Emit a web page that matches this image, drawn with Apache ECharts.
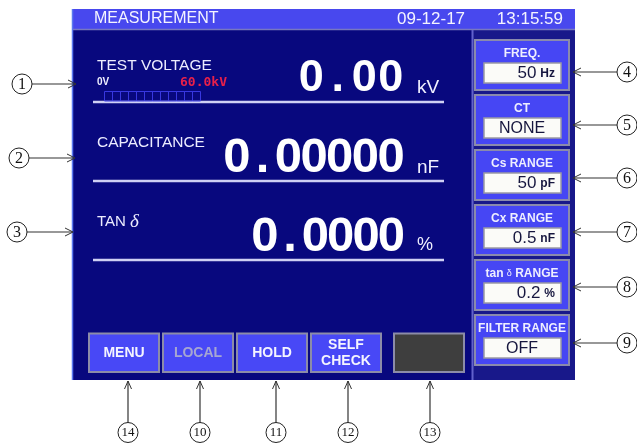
<!DOCTYPE html>
<html>
<head>
<meta charset="utf-8">
<script src="https://cdn.jsdelivr.net/npm/echarts@6/dist/echarts.min.js"></script>
<style>
  html, body { margin: 0; padding: 0; background: #fff; }
  #main { width: 637px; height: 443px; }
</style>
</head>
<body>
<div id="main"></div>
<script>
"use strict";
// screen texts
var headerTitle = 'MEASUREMENT';
var headerDate = '09-12-17';
var headerTime = '13:15:59';

var readingLabels = ['TEST VOLTAGE', 'CAPACITANCE', 'TAN δ'];
var readingValues = ['0.00', '0.00000', '0.0000'];
var readingUnits = ['kV', 'nF', '%'];

var gaugeMin = '0V';
var gaugeMax = '60.0kV';
var gaugeCells = 12;

var panelTitles = ['FREQ.', 'CT', 'Cs RANGE', 'Cx RANGE', 'tan δ RANGE', 'FILTER RANGE'];
var panelValues = ['50', 'NONE', '50', '0.5', '0.2', 'OFF'];
var panelUnits = ['Hz', '', 'pF', 'nF', '%', ''];

var buttonLabels = ['MENU', 'LOCAL', 'HOLD', 'SELF\nCHECK', ''];
var buttonEnabled = [true, false, true, true, false];

var leftCallouts = ['1', '2', '3'];
var rightCallouts = ['4', '5', '6', '7', '8', '9'];
var bottomCallouts = ['14', '10', '11', '12', '13'];

var FONT = 'Liberation Sans';
var els = [];

function rect(x, y, w, h, fill, stroke, lw) {
    els.push({type: 'rect', shape: {x: x, y: y, width: w, height: h},
        style: {fill: fill, stroke: stroke || null, lineWidth: lw || 0}});
}
function line(x1, y1, x2, y2, color, lw) {
    els.push({type: 'line', shape: {x1: x1, y1: y1, x2: x2, y2: y2},
        style: {stroke: color, lineWidth: lw || 1}});
}
function txt(x, y, text, size, color, opts) {
    opts = opts || {};
    var st = {text: text, fill: color, fontSize: size, fontFamily: opts.family || FONT,
        fontWeight: opts.weight || 'normal', textAlign: opts.align || 'left',
        textVerticalAlign: 'middle'};
    if (opts.rich) st.rich = opts.rich;
    if (opts.lineHeight) st.lineHeight = opts.lineHeight;
    els.push({type: 'text', x: x, y: y, style: st});
}

// ---- screen frame ----
rect(72, 9, 503, 371, '#08087e');
rect(72, 9, 503, 20, '#4848ee');
rect(472, 29, 103, 351, '#18188a');
line(72, 29.5, 575, 29.5, '#7878c0', 1.5);
line(472.5, 30, 472.5, 380, '#6262cc', 2);
line(72.5, 9, 72.5, 380, '#5a78f0', 1.5);

txt(94, 19, headerTitle, 16, '#f4f4ff');
txt(397, 19, headerDate, 17, '#f4f4ff');
txt(563, 19, headerTime, 17, '#f4f4ff', {align: 'right'});

// ---- readings ----
var rowLabelY = [66, 143, 222];
var rowDigitY = [79, 158.5, 237.5];
var rowDigitSize = [45, 49, 49];
var rowCell = [26.5, 25.7, 25.3];
var rowUnitY = [88, 168, 245.5];
var rowLineY = [102, 181, 260];

readingLabels.forEach(function (lab, i) {
    if (lab.indexOf('δ') >= 0) {
        txt(97, rowLabelY[i], '{a|TAN }{b|δ}', 15, '#ececff', {rich: {
            a: {fontSize: 15, fontFamily: FONT, fill: '#ececff'},
            b: {fontSize: 19, fontFamily: 'Liberation Serif', fontStyle: 'italic', fill: '#ececff'}
        }});
    } else {
        txt(97, rowLabelY[i], lab, 15.5, '#ececff');
    }
    var s = readingValues[i].split('').map(function (c) { return '{d|' + c + '}'; }).join('');
    txt(404, rowDigitY[i], s, rowDigitSize[i], '#ffffff', {align: 'right', rich: {
        d: {fontSize: rowDigitSize[i], fontFamily: FONT, fontWeight: 'bold', fill: '#ffffff',
            width: rowCell[i], align: 'center'}
    }});
    txt(417, rowUnitY[i], readingUnits[i], i === 2 ? 18 : 19, '#f0f0ff');
    line(93, rowLineY[i], 444, rowLineY[i], '#cfd0f4', 2.5);
});

// gauge under TEST VOLTAGE
txt(97, 82.5, gaugeMin, 10, '#f0f0ff', {weight: 'bold'});
txt(227, 82.5, gaugeMax, 13, '#e8204a', {align: 'right', weight: 'bold', family: 'DejaVu Sans Mono'});
for (var g = 0; g < gaugeCells; g++) {
    els.push({type: 'rect', shape: {x: 104.5 + g * 8, y: 91.5, width: 8, height: 9.5},
        style: {fill: null, stroke: '#3838e0', lineWidth: 1}});
}

// ---- right panel ----
panelTitles.forEach(function (t, i) {
    var top = 40 + i * 55;
    rect(475, top, 94, 50, '#4646f4', '#8a8aac', 2);
    if (t.indexOf('δ') >= 0) {
        txt(522, top + 13.5, '{a|tan }{b|δ}{a| RANGE}', 12, '#eeeeff', {align: 'center', rich: {
            a: {fontSize: 12, fontWeight: 'bold', fontFamily: FONT, fill: '#eeeeff'},
            b: {fontSize: 9, fontFamily: FONT, fill: '#eeeeff'}
        }});
    } else {
        txt(522, top + 13.5, t, 12, '#eeeeff', {align: 'center', weight: 'bold'});
    }
    rect(484, top + 23, 77, 20, '#fbfbf8', '#9a9aa4', 1.5);
    if (panelUnits[i]) {
        txt(555, top + 33.5, '{v|' + panelValues[i] + '}{u|' + panelUnits[i] + '}', 16, '#16163e', {
            align: 'right', rich: {
                v: {fontSize: 17, fontFamily: FONT, fill: '#16163e'},
                u: {fontSize: 12, fontWeight: 'bold', fontFamily: FONT, fill: '#16163e',
                    padding: [0, 0, 0, 4]}
            }});
    } else {
        txt(522, top + 33.5, panelValues[i], 16, '#16163e', {align: 'center'});
    }
});

// ---- soft keys ----
var btnX = [89, 163, 237, 311, 394];
buttonLabels.forEach(function (b, i) {
    var dark = b === '';
    rect(btnX[i], 333.5, 70, 38.5, dark ? '#3e3e3e' : '#4848f6', '#8c8ca8', 2);
    if (!dark) {
        txt(btnX[i] + 35, 353, b, 14, buttonEnabled[i] ? '#f4f4ff' : '#a6a6d2',
            {align: 'center', weight: 'bold', lineHeight: 16});
    }
});

// ---- callouts ----
function circleNum(cx, cy, n) {
    els.push({type: 'circle', shape: {cx: cx, cy: cy, r: 10},
        style: {fill: '#ffffff', stroke: '#222', lineWidth: 1}});
    txt(cx, cy + 0.5, n, n.length > 1 ? 13 : 16, '#111',
        {align: 'center', family: 'Liberation Serif'});
}
function arrowRight(x1, x2, y) {
    line(x1, y, x2, y, '#333', 1.2);
    els.push({type: 'polyline', shape: {points: [[x2 - 8, y - 4], [x2, y], [x2 - 8, y + 4]]},
        style: {stroke: '#333', lineWidth: 1, fill: null}});
}
function arrowLeft(x1, x2, y) {
    line(x1, y, x2, y, '#333', 1.2);
    els.push({type: 'polyline', shape: {points: [[x2 + 8, y - 4], [x2, y], [x2 + 8, y + 4]]},
        style: {stroke: '#333', lineWidth: 1, fill: null}});
}
function arrowUp(x, y1, y2) {
    line(x, y1, x, y2, '#333', 1.2);
    els.push({type: 'polyline', shape: {points: [[x - 3.5, y2 + 8], [x, y2], [x + 3.5, y2 + 8]]},
        style: {stroke: '#333', lineWidth: 1, fill: null}});
}

var leftPos = [[22, 84, 76], [19, 158, 75], [17, 232, 73]];
leftCallouts.forEach(function (n, i) {
    var p = leftPos[i];
    arrowRight(p[0] + 10, p[2], p[1]);
    circleNum(p[0], p[1], n);
});

var rightY = [72, 125, 178, 232, 287, 343];
rightCallouts.forEach(function (n, i) {
    arrowLeft(617, 573, rightY[i]);
    circleNum(627, rightY[i], n);
});

var bottomX = [128, 200, 276, 348, 430];
bottomCallouts.forEach(function (n, i) {
    arrowUp(bottomX[i], 423, 381);
    circleNum(bottomX[i], 432.5, n);
});

var myChart = echarts.init(document.getElementById('main'));
myChart.setOption({
    backgroundColor: '#ffffff',
    animation: false,
    graphic: {elements: els}
});
</script>
</body>
</html>
